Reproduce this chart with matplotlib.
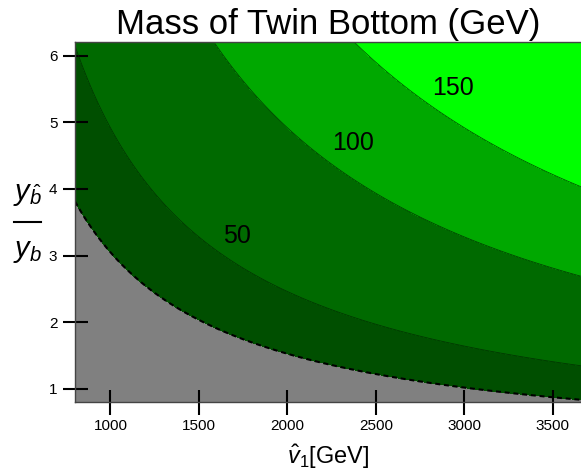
import numpy as np
import matplotlib
matplotlib.use("Agg")
import matplotlib.pyplot as plt
from matplotlib.lines import Line2D

plt.rcParams['font.family'] = ['Liberation Sans', 'DejaVu Sans']
plt.rcParams['mathtext.fontset'] = 'custom'
plt.rcParams['mathtext.rm'] = 'Liberation Sans'
plt.rcParams['mathtext.it'] = 'Liberation Sans:italic'

# twin bottom mass: m_bhat = (y_bhat / y_b) * m_b * v1hat / v
m_b = 2.5      # GeV, running bottom mass
v_sm = 246.0   # GeV
v1_range = [800, 3660]
ratio_range = [0.8, 6.2]

levels = [0, 31, 50, 100, 150, 1000]
band_colors = ['#808080', '#004f00', '#006a00', '#00a800', '#00ff00']
line_levels = [50, 100, 150]
bound_level = 31

label_text = ['50', '100', '150']
label_x = [1718, 2373, 2938]
label_y = [3.29, 4.69, 5.52]

xticks = [1000, 1500, 2000, 2500, 3000, 3500]
yticks = [1, 2, 3, 4, 5, 6]

v1 = np.linspace(v1_range[0], v1_range[1], 400)
ratio = np.linspace(ratio_range[0], ratio_range[1], 400)
V, R = np.meshgrid(v1, ratio)
mass = R * m_b * V / v_sm

fig = plt.figure(figsize=(5.81, 4.73), dpi=100)
ax = fig.add_axes([75/581, 71/473, 506/581, 359.5/473])

ax.contourf(V, R, mass, levels=levels, colors=band_colors)
ax.contour(V, R, mass, levels=line_levels, colors='#002a00', linewidths=0.6, alpha=0.8)
ax.contour(V, R, mass, levels=[bound_level], colors='black', linewidths=1.5,
           linestyles=[(0, (2.4, 1.8))])

for t, x, y in zip(label_text, label_x, label_y):
    ax.text(x, y, t, fontsize=18, ha='center', va='center', color='black')

ax.set_xlim(v1_range)
ax.set_ylim(ratio_range)
ax.set_xticks(xticks)
ax.set_yticks(yticks)
ax.tick_params(direction='inout', length=18, width=1.5, labelsize=11, color='black')
ax.tick_params(axis='x', pad=3)
ax.tick_params(axis='y', pad=3.7)
for s in ['left', 'bottom', 'top']:
    ax.spines[s].set_color('#444444')
    ax.spines[s].set_linewidth(1.0)
ax.spines['right'].set_visible(False)

ax.set_title('Mass of Twin Bottom (GeV)', fontsize=25, pad=6)
ax.set_xlabel(r'$\hat{v}_1$[GeV]', fontsize=17, labelpad=7)

# y label drawn as a stacked fraction
fig.text(27/581, 1 - 195/473, r'$y_{\hat{b}}$', fontsize=21, ha='center', va='center')
fig.text(27/581, 1 - 251/473, r'$y_b$', fontsize=21, ha='center', va='center')
fig.add_artist(Line2D([14/581, 41/581], [1 - 222/473, 1 - 222/473],
                      color='black', linewidth=1.5, transform=fig.transFigure))

fig.savefig('out.png', dpi=100)
